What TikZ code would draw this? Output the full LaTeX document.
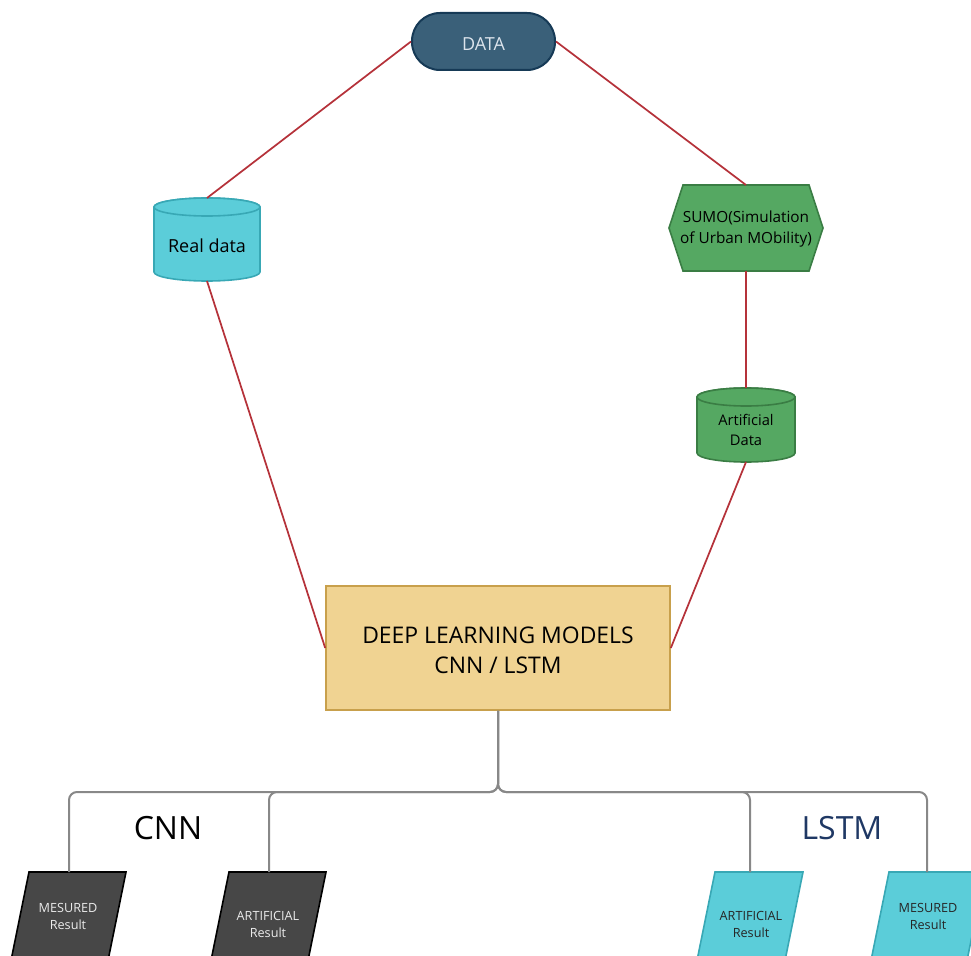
\documentclass[tikz,border=0pt]{standalone}
\usepackage{fontspec}
\setmainfont{Open Sans}
\definecolor{datafill}{HTML}{3A6079}
\definecolor{datadraw}{HTML}{163A56}
\definecolor{datatext}{HTML}{DCE4EC}
\definecolor{cyanfill}{HTML}{5BCDD9}
\definecolor{cyandraw}{HTML}{38A8B5}
\definecolor{greenfill}{HTML}{55A862}
\definecolor{greendraw}{HTML}{3A7D44}
\definecolor{goldfill}{HTML}{F0D392}
\definecolor{golddraw}{HTML}{C8A04C}
\definecolor{redline}{HTML}{B5323A}
\definecolor{grayline}{HTML}{888888}
\definecolor{darkfill}{HTML}{474747}
\definecolor{navy}{HTML}{1F3864}
\tikzset{
  redconn/.style={draw=redline, line width=1.3pt},
  grayconn/.style={draw=grayline, line width=1.5pt, rounded corners=6pt},
  cyanshape/.style={fill=cyanfill, draw=cyandraw, line width=1.2pt},
  greenshape/.style={fill=greenfill, draw=greendraw, line width=1.2pt},
  darkshape/.style={fill=darkfill, draw=black, line width=1.2pt},
  anchorbox/.style={draw=none, inner sep=0pt, outer sep=0pt},
  restext/.style={font=\fontsize{9.5}{12.75}\selectfont, align=center, inner sep=0pt},
}
\begin{document}
\begin{tikzpicture}[x=0.75pt, y=-0.75pt]
\useasboundingbox (0,0) rectangle (971,956);
\clip (0,0) rectangle (971,956);

% DATA
\node[fill=datafill, draw=datadraw, line width=1.5pt, rounded corners=21pt,
      minimum width=107.25pt, minimum height=42.75pt, inner sep=0pt,
      text=datatext, font=\fontsize{13.5}{16}\selectfont] (data) at (483.5,41.5) {};
\node[text=datatext, font=\fontsize{13.5}{16}\selectfont, inner sep=0pt] (datatxt) at (483.5,44) {DATA};

% Real data cylinder
\filldraw[cyanshape] (154,207) -- (154,272) arc[start angle=180, end angle=0, x radius=53, y radius=9]
  -- (260,207) arc[start angle=0, end angle=-180, x radius=53, y radius=9] -- cycle;
\draw[cyanshape] (207,207) ellipse[x radius=53, y radius=9];
\node[anchorbox, minimum width=79.5pt, minimum height=62.25pt] (real) at (207,239.5) {};
\node[font=\fontsize{13.5}{15}\selectfont, inner sep=0pt] (realtxt) at (207,246) {Real data};

% SUMO hexagon
\filldraw[greenshape] (669,228) -- (683,185) -- (809,185) -- (823,228) -- (809,271) -- (683,271) -- cycle;
\node[anchorbox, minimum width=115.5pt, minimum height=64.5pt] (sumo) at (746,228) {};
\node[font=\fontsize{11.5}{15.5}\selectfont, align=center, inner sep=0pt] (sumotxt) at (746,229)
  {SUMO(Simulation\\of Urban MObility)};

% Artificial Data cylinder
\filldraw[greenshape] (697,397) -- (697,453) arc[start angle=180, end angle=0, x radius=49, y radius=9]
  -- (795,397) arc[start angle=0, end angle=-180, x radius=49, y radius=9] -- cycle;
\draw[greenshape] (746,397) ellipse[x radius=49, y radius=9];
\node[anchorbox, minimum width=73.5pt, minimum height=55.5pt] (art) at (746,425) {};
\node[font=\fontsize{11}{15.5}\selectfont, align=center, inner sep=0pt] (arttxt) at (746,430)
  {Artificial\\Data};

% Deep learning box
\node[fill=goldfill, draw=golddraw, line width=1.2pt, minimum width=258pt, minimum height=93pt,
      inner sep=0pt] (dl) at (498,648) {};
\node[align=center, inner sep=0pt, font=\fontsize{17.2}{22.5}\selectfont] (dltxt) at (498,650)
  {DEEP LEARNING MODELS\\CNN / LSTM};

% red connectors
\draw[redconn] (data.west) -- (real.north);
\draw[redconn] (data.east) -- (sumo.north);
\draw[redconn] (real.south) -- (dl.west);
\draw[redconn] (sumo.south) -- (art.north);
\draw[redconn] (art.south) -- (dl.east);

% result parallelograms
\filldraw[darkshape] (29,872) -- (126,872) -- (102,990) -- (5,990) -- cycle;
\filldraw[darkshape] (229,872) -- (326,872) -- (302,990) -- (205,990) -- cycle;
\filldraw[cyanshape] (715,872) -- (803,872) -- (779,990) -- (691,990) -- cycle;
\filldraw[cyanshape] (889,872) -- (985,872) -- (961,990) -- (865,990) -- cycle;
\coordinate (r1) at (69,872);
\coordinate (r2) at (269,872);
\coordinate (r3) at (750,872);
\coordinate (r4) at (927,872);
\node[restext, text=white!92!black] (t1) at (68,916) {MESURED\\Result};
\node[restext, text=white!92!black] (t2) at (268,924) {ARTIFICIAL\\Result};
\node[restext, text=black!85] (t3) at (751,924) {ARTIFICIAL\\Result};
\node[restext, text=black!85] (t4) at (928,916) {MESURED\\Result};

% gray tree
\coordinate (hub) at (498,792);
\draw[grayconn] (dl.south) -- (hub) -- (69,792) -- (r1);
\draw[grayconn] (dl.south) -- (hub) -- (269,792) -- (r2);
\draw[grayconn] (dl.south) -- (hub) -- (750,792) -- (r3);
\draw[grayconn] (dl.south) -- (hub) -- (927,792) -- (r4);

% labels
\node[font=\fontsize{24}{28}\selectfont, inner sep=0pt] (cnn) at (168,828) {CNN};
\node[font=\fontsize{24}{28}\selectfont, text=navy, inner sep=0pt] (lstm) at (842,828) {LSTM};
\end{tikzpicture}
\end{document}
